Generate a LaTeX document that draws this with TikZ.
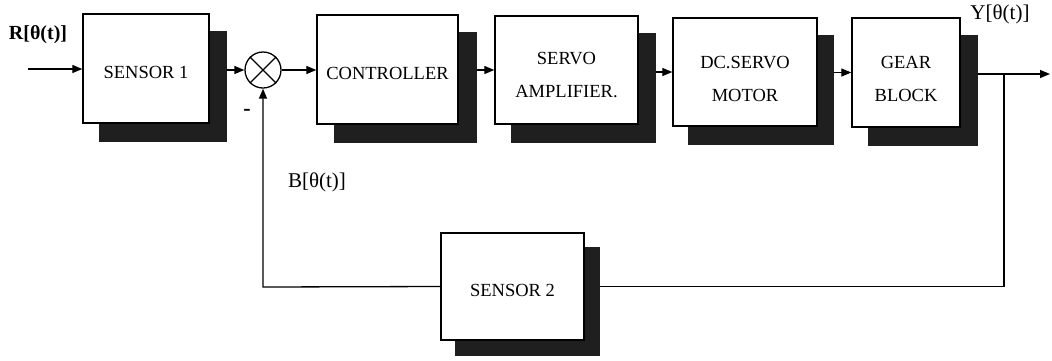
\documentclass[tikz,border=0pt]{standalone}
\usepackage{fontspec}
\setmainfont{Liberation Serif}
\usetikzlibrary{arrows.meta,backgrounds,calc}
\tikzset{
  blk/.style={draw=black,line width=1.4pt,fill=white,inner sep=0pt,
    font=\fontsize{18.5}{33}\selectfont},
  lbl/.style={inner sep=0pt,font=\fontsize{21}{24}\selectfont},
  sig/.style={line width=1.3pt},
  arr/.style={sig,-{Triangle[length=10pt,width=8pt]}},
  shd/.style={fill=black!88},
}
\newcommand{\btext}[2][8pt]{\raisebox{-#1}[0pt][0pt]{\begin{tabular}{@{}c@{}}#2\end{tabular}}}
\newcommand{\boxshadow}[3]{\fill[shd] ($(#1.south west)+(#2,#3)$) rectangle ($(#1.north east)+(#2,#3)$);}
\begin{document}
\begin{tikzpicture}[x=1pt,y=-1pt]
\useasboundingbox (0,0) rectangle (1052,360);
% blocks
\node[blk,minimum width=126pt,minimum height=109pt] (s1) at (146,68.5) {\btext{SENSOR 1}};
\node[draw,circle,line width=1.3pt,minimum size=36pt,inner sep=0pt,fill=white] (sum) at (263,70) {};
\node[blk,minimum width=141pt,minimum height=109pt] (ctrl) at (387.5,69.5) {\btext{CONTROLLER}};
\node[blk,minimum width=143pt,minimum height=108pt] (amp) at (566.5,70) {\btext[8.5pt]{SERVO\\AMPLIFIER.}};
\node[blk,minimum width=144pt,minimum height=108pt] (dc) at (745,72) {\btext[10.5pt]{DC.SERVO\\MOTOR}};
\node[blk,minimum width=108pt,minimum height=109pt] (gear) at (906,72.5) {\btext[10.5pt]{GEAR\\BLOCK}};
\node[blk,minimum width=143pt,minimum height=107pt] (s2) at (512.5,286.5) {\btext{SENSOR 2}};
% shadows
\begin{pgfonlayer}{background}
\boxshadow{s1}{17}{18}
\boxshadow{ctrl}{18}{18}
\boxshadow{amp}{17}{18}
\boxshadow{dc}{16}{18}
\boxshadow{gear}{17}{18}
\boxshadow{s2}{15}{15}
\end{pgfonlayer}
% summing junction cross
\draw[sig] (sum.north west) -- (sum.south east);
\draw[sig] (sum.north east) -- (sum.south west);
% coordinates
\coordinate (in) at (28,69);
\coordinate (out) at (1050,74);
\coordinate (br) at (1004,74);
\coordinate (fbl) at (263,287);
% forward path
\draw[arr] (in) -- (s1.west |- in);
\draw[arr] ([xshift=17pt]s1.east |- sum.west) -- (sum.west);
\draw[arr] (sum.east) -- (ctrl.west |- sum.east);
\draw[arr] ([xshift=18pt]ctrl.east |- amp.west) -- (amp.west);
\draw[arr] ([xshift=17pt]amp.east |- dc.west) -- (dc.west);
\draw[arr] ([xshift=16pt]dc.east |- gear.west) -- (gear.west);
\draw[arr] ([xshift=17pt]gear.east |- out) -- (out);
% feedback path
\draw[sig] (br) -- (br |- s2.east) -- ([xshift=15pt]s2.east);
\draw[arr] (s2.west) -- (fbl) -- (sum.south);
% labels
\node[lbl,font=\fontsize{20}{24}\selectfont\bfseries] (rl) at (38,35) {R[θ(t)]};
\node[lbl] (yl) at (1000,14) {Y[θ(t)]};
\node[lbl] (bl) at (317,182) {B[θ(t)]};
\node[lbl,font=\fontsize{22}{24}\selectfont\bfseries] (ml) at (247,112) {-};
\end{tikzpicture}
\end{document}
